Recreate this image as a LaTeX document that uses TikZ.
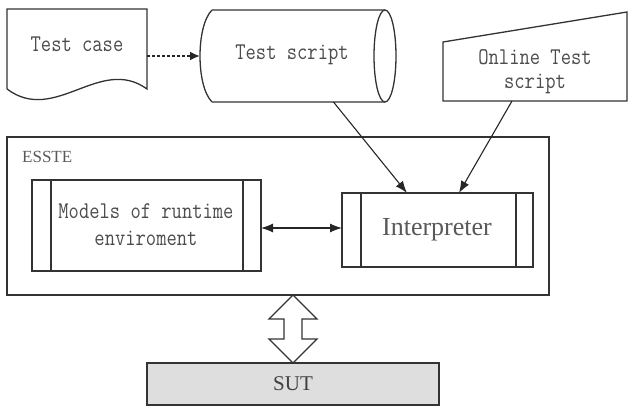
\documentclass[tikz,border=0pt]{standalone}
\usepackage{fontspec}
\usepackage{graphicx}
\setmainfont{Liberation Serif}
\usetikzlibrary{arrows.meta,calc}
\newcommand{\talltxt}[1]{\scalebox{1}[1.2]{#1}}
\begin{document}
\begin{tikzpicture}[x=1pt,y=-1pt,
 line/.style={draw=black!80, line width=1.3pt},
 box/.style={inner sep=0pt, outer sep=0pt, draw=none},
 framebox/.style={line, inner sep=0pt, outer sep=0pt},
 mtxt/.style={font=\ttfamily\fontsize{20}{24}\selectfont, text=black!70, align=center, inner sep=0pt},
 arr/.style={line width=1.1pt, draw=black!85, -{Latex[length=12pt,width=9pt]}},
 darr/.style={line width=1.1pt, draw=black!85, {Latex[length=12pt,width=9pt]}-{Latex[length=12pt,width=9pt]}},
 dotarr/.style={line width=1.8pt, draw=black!85, dash pattern=on 3pt off 2pt, -{Latex[length=10pt,width=9pt]}},
]
\useasboundingbox (0,0) rectangle (630,406);

% Test case (document shape)
\node[box, minimum width=140pt, minimum height=94pt] (tc) at (77,56) {};
\draw[line] (7,89) -- (7,9) -- (147,9) -- (147,89) .. controls (100,55) and (55,125) .. (7,89);
\node[mtxt] (tct) at (77,44) {\talltxt{Test case}};

% Test script (cylinder)
\node[box, minimum width=197pt, minimum height=92pt] (ts) at (298.5,56) {};
\draw[line] (212,10) -- (385,10) (212,102) -- (385,102)
  (212,10) .. controls (196,26) and (196,86) .. (212,102);
\draw[line] (385,56) ellipse [x radius=11, y radius=46];
\node[mtxt] (tst) at (292,55) {\talltxt{Test script}};

% Online Test script (manual input)
\node[box, minimum width=184pt, minimum height=89pt] (os) at (535,56.5) {};
\draw[line] (443,42) -- (627,12) -- (627,101) -- (443,101) -- cycle;
\node[mtxt] (ost) at (535,71.5) {\talltxt{Online Test}\\\talltxt{script}};

% ESSTE frame
\node[framebox, minimum width=542pt, minimum height=158pt] (es) at (278,216) {};
\node[anchor=west, inner sep=0pt, font=\fontsize{17}{17}\selectfont, text=black!65] (esl) at (22,157) {ESSTE};

% Models of runtime environment
\node[framebox, minimum width=229pt, minimum height=91pt] (md) at (146.5,225.5) {};
\draw[line] ([xshift=19pt]md.north west) -- ([xshift=19pt]md.south west)
            ([xshift=-18pt]md.north east) -- ([xshift=-18pt]md.south east);
\node[mtxt, font=\ttfamily\fontsize{20}{27}\selectfont] (mdt) at (146,224.5) {\talltxt{Models of runtime}\\\talltxt{enviroment}};

% Interpreter
\node[framebox, minimum width=191pt, minimum height=74pt] (ip) at (437.5,230) {};
\draw[line] ([xshift=19pt]ip.north west) -- ([xshift=19pt]ip.south west)
            ([xshift=-17pt]ip.north east) -- ([xshift=-17pt]ip.south east);
\node[inner sep=0pt, font=\fontsize{26}{26}\selectfont, text=black!65] (ipt) at (437,230) {Interpreter};

% SUT
\node[framebox, fill=black!13, minimum width=292pt, minimum height=42pt,
      font=\fontsize{21}{21}\selectfont, text=black!75] (sut) at (293,384) {SUT};

% connectors
\draw[dotarr] (tc.east) -- (ts.west);
\draw[arr] ([xshift=35pt]ts.south) -- ([xshift=-30.5pt]ip.north);
\draw[arr] ([xshift=-23pt]os.south) -- ([xshift=21.5pt]ip.north);
\draw[darr] ([yshift=-2.5pt]md.east) -- ([yshift=2pt]ip.west);

% hollow double arrow between ESSTE and SUT
\draw[line, fill=white, line join=miter] (sut.north) -- ++(24,-24) -- ++(-15,0) -- ++(0,-20) -- ++(15,0)
  -- (es.south -| sut.north) -- ++(-24,24) -- ++(15,0) -- ++(0,20) -- ++(-15,0) -- cycle;
\end{tikzpicture}
\end{document}
